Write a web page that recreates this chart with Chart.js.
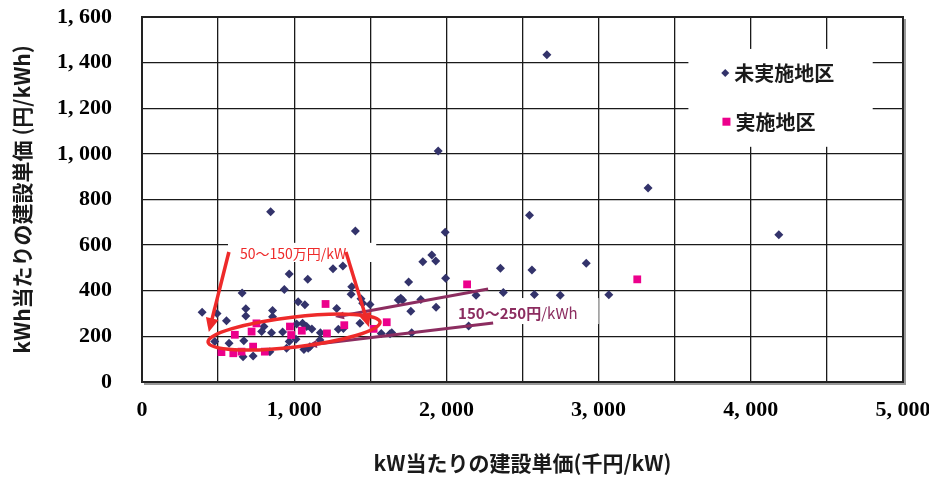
<!DOCTYPE html>
<html>
<head>
<meta charset="utf-8">
<script src="https://cdn.jsdelivr.net/npm/chart.js@4.4.1/dist/chart.umd.min.js"></script>
<style>
  body { margin: 0; background: #fff; }
  #wrap { width: 929px; height: 477px; }
</style>
</head>
<body>
<div id="wrap"><canvas id="chart" width="929" height="477"></canvas></div>
<script>
// kW当たり建設単価 (千円/kW) vs kWh当たり建設単価 (円/kWh)

// 未実施地区
var notDoneX = [395, 493, 555, 658, 682, 682, 478, 572, 669, 664, 730, 786, 801, 845, 840, 851, 858, 858, 924, 935,
  950, 967, 967, 1012, 1016, 1026, 1055, 1064, 1070, 1082, 1089, 1092, 1103, 1116, 1172, 1169, 1255, 1279, 1290, 1320,
  1323, 1374, 1378, 1402, 1432, 1439, 1450, 1498, 1572, 1630, 1641, 1684, 1700, 1712, 1752, 1766, 1772, 1832, 1845, 1904,
  1930, 1932, 1946, 1992, 1995, 2146, 2195, 2355, 2374, 2546, 2562, 2578, 2660, 2748, 2919, 3067, 3325, 4184];
var notDoneY = [306, 300, 269, 390, 321, 289, 178, 170, 181, 111, 114, 221, 243, 746, 133, 216, 313, 286, 219, 405,
  148, 177, 473, 187, 254, 352, 257, 143, 339, 243, 450, 148, 155, 232, 216, 184, 496, 322, 231, 509,
  235, 385, 418, 662, 257, 365, 345, 340, 213, 211, 216, 360, 367, 360, 438, 310, 216, 362, 527, 557,
  530, 328, 1013, 656, 455, 246, 380, 499, 392, 731, 491, 384, 1435, 380, 521, 382, 850, 646];

// 実施地区
var doneX = [522, 600, 610, 654, 720, 730, 752, 807, 972, 980, 1050, 1206, 1215, 1329, 1522, 1608, 2136, 3254];
var doneY = [131, 126, 207, 133, 221, 155, 257, 133, 243, 206, 225, 342, 213, 249, 233, 262, 428, 450];

var seriesNames = ["未実施地区", "実施地区"];
var xGrid = [0, 500, 1000, 1500, 2000, 2500, 3000, 3500, 4000, 4500, 5000];
var xLabels = [0, 1000, 2000, 3000, 4000, 5000];
var yTicks = [0, 200, 400, 600, 800, 1000, 1200, 1400, 1600];

var navy = "#33336b";
var pink = "#ec008c";
var red = "#ee2a2a";
var plum = "#8c2d60";

function fmt(v) {
  if (v < 1000) return String(v);
  return Math.floor(v / 1000) + ", " + String(v % 1000).padStart(3, "0");
}

function pairs(xs, ys) {
  return xs.map(function (x, i) { return { x: x, y: ys[i] }; });
}

// overlay boxes / arrows, in data units
var legendBox = [3590, 4801, 1460, 1031];
var kwBox = [565, 1539, 610, 526];
var kwhBox = [2070, 3000, 368, 254];
var redArrows = [[571, 570, 439, 219], [1340, 570, 1491, 241]];
var plumArrows = [[2274, 408, 1268, 285], [2307, 259, 1090, 162]];
var ring = { x0: 434, y0: 175, x1: 1564, y1: 263, b: 15 };

function arrow(ctx, x0, y0, x1, y1, len, wid, color, lw) {
  var a = Math.atan2(y1 - y0, x1 - x0);
  ctx.strokeStyle = color;
  ctx.fillStyle = color;
  ctx.lineWidth = lw;
  ctx.beginPath();
  ctx.moveTo(x0, y0);
  ctx.lineTo(x1 - Math.cos(a) * len * 0.8, y1 - Math.sin(a) * len * 0.8);
  ctx.stroke();
  ctx.beginPath();
  ctx.moveTo(x1, y1);
  ctx.lineTo(x1 - Math.cos(a) * len + Math.sin(a) * wid / 2, y1 - Math.sin(a) * len - Math.cos(a) * wid / 2);
  ctx.lineTo(x1 - Math.cos(a) * len - Math.sin(a) * wid / 2, y1 - Math.sin(a) * len + Math.cos(a) * wid / 2);
  ctx.closePath();
  ctx.fill();
}

var annotate = {
  id: "annotate",
  beforeDatasetsDraw: function (chart) {
    var ctx = chart.ctx, xs = chart.scales.x, ys = chart.scales.y;
    ctx.save();
    ctx.fillStyle = "#fff";
    [legendBox, kwBox, kwhBox].forEach(function (b) {
      var x0 = xs.getPixelForValue(b[0]), x1 = xs.getPixelForValue(b[1]);
      var y0 = ys.getPixelForValue(b[2]), y1 = ys.getPixelForValue(b[3]);
      ctx.fillRect(x0, y0, x1 - x0, y1 - y0);
    });
    ctx.restore();
  },
  afterDatasetsDraw: function (chart) {
    var ctx = chart.ctx, xs = chart.scales.x, ys = chart.scales.y;
    var area = chart.chartArea;
    ctx.save();

    // frame with light shadow
    ctx.strokeStyle = "#999";
    ctx.lineWidth = 2;
    ctx.beginPath();
    ctx.moveTo(area.right + 2, area.top + 2);
    ctx.lineTo(area.right + 2, area.bottom + 2);
    ctx.lineTo(area.left + 2, area.bottom + 2);
    ctx.stroke();
    ctx.strokeStyle = "#222";
    ctx.lineWidth = 2;
    ctx.strokeRect(area.left, area.top, area.right - area.left, area.bottom - area.top);

    // purple trend arrows
    plumArrows.forEach(function (p) {
      arrow(ctx, xs.getPixelForValue(p[0]), ys.getPixelForValue(p[1]),
        xs.getPixelForValue(p[2]), ys.getPixelForValue(p[3]), 9, 8, plum, 3);
    });

    // red ring
    var lx = xs.getPixelForValue(ring.x0), ly = ys.getPixelForValue(ring.y0);
    var rx = xs.getPixelForValue(ring.x1), ry = ys.getPixelForValue(ring.y1);
    ctx.strokeStyle = red;
    ctx.lineWidth = 3.5;
    ctx.beginPath();
    ctx.ellipse((lx + rx) / 2, (ly + ry) / 2, Math.hypot(rx - lx, ry - ly) / 2, ring.b,
      Math.atan2(ry - ly, rx - lx), 0, Math.PI * 2);
    ctx.stroke();

    // red arrows
    redArrows.forEach(function (p) {
      arrow(ctx, xs.getPixelForValue(p[0]), ys.getPixelForValue(p[1]),
        xs.getPixelForValue(p[2]), ys.getPixelForValue(p[3]), 14, 13, red, 3.5);
    });

    // annotation texts
    ctx.textBaseline = "middle";
    ctx.textAlign = "left";
    ctx.fillStyle = red;
    ctx.font = "14px 'Noto Sans CJK JP', 'Liberation Sans', sans-serif";
    ctx.fillText("50～150万円/kW", xs.getPixelForValue(644), ys.getPixelForValue(561));

    var tx = xs.getPixelForValue(2077), ty = ys.getPixelForValue(303);
    ctx.fillStyle = plum;
    ctx.font = "bold 15px 'Noto Sans CJK JP', 'Liberation Sans', sans-serif";
    ctx.fillText("150～250円", tx, ty);
    var w = ctx.measureText("150～250円").width;
    ctx.font = "15px 'Noto Sans CJK JP', 'Liberation Sans', sans-serif";
    ctx.fillText("/kWh", tx + w, ty);

    // legend
    var items = [
      { name: seriesNames[0], x: 3832, y: 1355, style: "diamond", color: navy },
      { name: seriesNames[1], x: 3840, y: 1141, style: "square", color: pink }
    ];
    ctx.font = "bold 20px 'Noto Sans CJK JP', sans-serif";
    items.forEach(function (it) {
      var px = xs.getPixelForValue(it.x), py = ys.getPixelForValue(it.y);
      ctx.fillStyle = it.color;
      ctx.beginPath();
      if (it.style === "diamond") {
        ctx.moveTo(px, py - 4); ctx.lineTo(px + 4, py); ctx.lineTo(px, py + 4); ctx.lineTo(px - 4, py);
      } else {
        ctx.rect(px - 4, py - 4, 8, 8);
      }
      ctx.closePath();
      ctx.fill();
      ctx.fillStyle = "#1a1a1a";
      ctx.fillText(it.name, px + 9, py + 1);
    });

    ctx.restore();
  }
};

var tickFont = { family: "'Liberation Serif', 'DejaVu Serif', serif", size: 22, weight: "bold" };
var titleFont = { family: "'Noto Sans CJK JP', sans-serif", size: 21, weight: "bold" };

new Chart(document.getElementById("chart"), {
  type: "scatter",
  data: {
    datasets: [
      {
        label: seriesNames[1],
        data: pairs(doneX, doneY),
        pointStyle: "rect",
        pointRadius: 5.5,
        pointBorderWidth: 0,
        backgroundColor: pink,
        borderColor: pink
      },
      {
        label: seriesNames[0],
        data: pairs(notDoneX, notDoneY),
        pointStyle: "rectRot",
        pointRadius: 4.5,
        pointBorderWidth: 0,
        backgroundColor: navy,
        borderColor: navy
      }
    ]
  },
  options: {
    responsive: false,
    animation: false,
    devicePixelRatio: 1,
    layout: { padding: { top: 17, right: 26, left: 0, bottom: 0 } },
    plugins: { legend: { display: false }, tooltip: { enabled: false } },
    scales: {
      x: {
        type: "linear",
        min: 0,
        max: 5000,
        afterBuildTicks: function (scale) {
          scale.ticks = xGrid.map(function (v) { return { value: v }; });
        },
        afterFit: function (scale) {
          scale.height = 95;
          scale.paddingLeft = 0;
          scale.paddingRight = 0;
        },
        grid: { color: "#1a1a1a", lineWidth: 1.3, drawTicks: false },
        border: { color: "#222", width: 2 },
        ticks: {
          autoSkip: false,
          maxRotation: 0,
          padding: 15,
          color: "#000",
          font: tickFont,
          callback: function (v) { return xLabels.indexOf(v) >= 0 ? fmt(v) : ""; }
        },
        title: {
          display: true,
          text: "kW当たりの建設単価(千円/kW)",
          color: "#1a1a1a",
          font: titleFont,
          padding: { top: 0, bottom: 1 }
        }
      },
      y: {
        type: "linear",
        min: 0,
        max: 1600,
        afterBuildTicks: function (scale) {
          scale.ticks = yTicks.map(function (v) { return { value: v }; });
        },
        afterFit: function (scale) {
          scale.width = 142;
          scale.paddingTop = 0;
          scale.paddingBottom = 0;
        },
        grid: { color: "#1a1a1a", lineWidth: 1.3, drawTicks: false },
        border: { color: "#222", width: 2 },
        ticks: {
          padding: 30,
          color: "#000",
          font: tickFont,
          callback: function (v) { return fmt(v); }
        },
        title: {
          display: true,
          text: "kWh当たりの建設単価 (円/kWh)",
          color: "#1a1a1a",
          font: titleFont,
          padding: { top: 9, bottom: 0 }
        }
      }
    }
  },
  plugins: [annotate]
});
</script>
</body>
</html>
